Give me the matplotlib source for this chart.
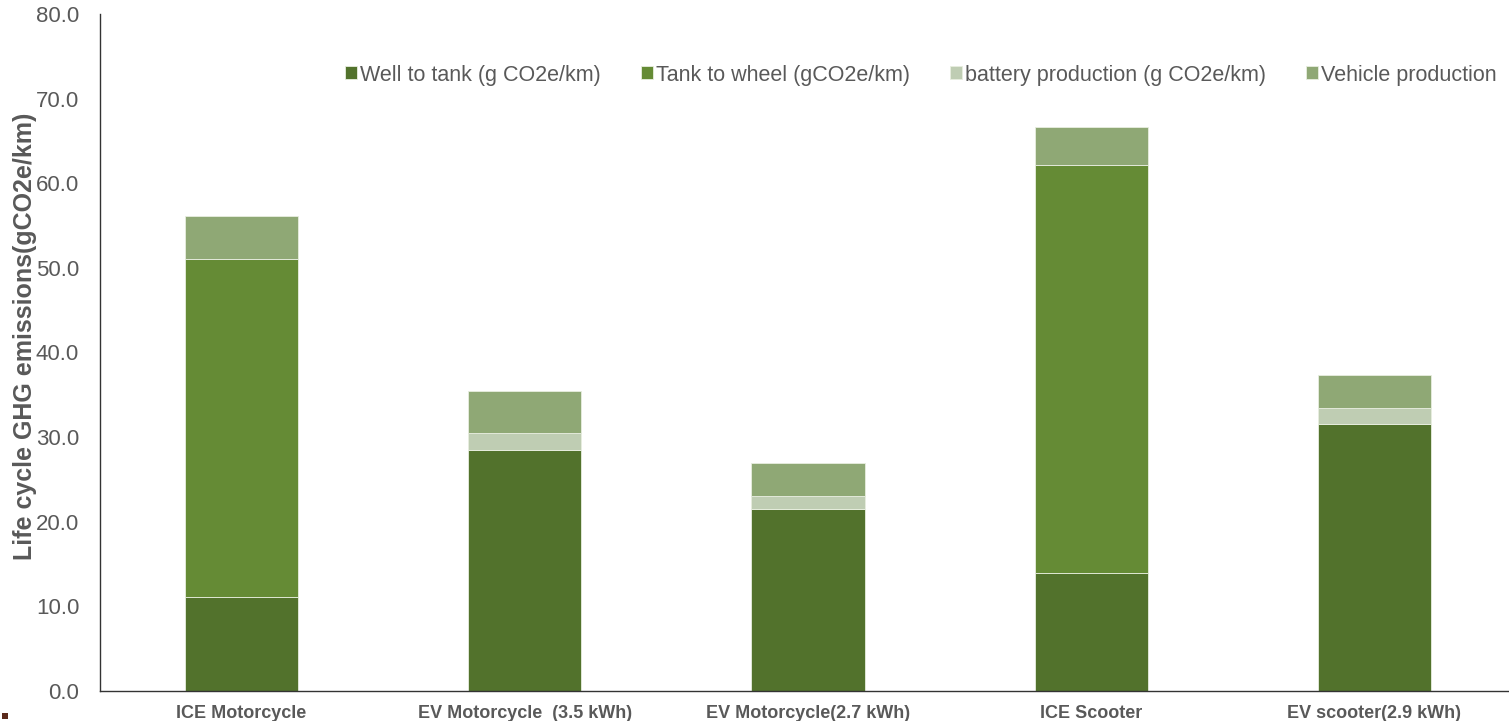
import matplotlib
matplotlib.use("Agg")
import matplotlib.pyplot as plt
from matplotlib.patches import Rectangle
import numpy as np

plt.rcParams['font.family'] = ['Liberation Sans', 'DejaVu Sans']

categories = ["ICE Motorcycle", "EV Motorcycle  (3.5 kWh)", "EV Motorcycle(2.7 kWh)",
              "ICE Scooter", "EV scooter(2.9 kWh)"]
series_names = ["Well to tank (g CO2e/km)", "Tank to wheel (gCO2e/km)",
                "battery production (g CO2e/km)", "Vehicle production"]
well_to_tank = [11.1, 28.5, 21.5, 14.0, 31.5]
tank_to_wheel = [40.0, 0.0, 0.0, 48.1, 0.0]
battery_production = [0.0, 2.0, 1.6, 0.0, 1.9]
vehicle_production = [5.0, 5.0, 3.8, 4.6, 4.0]
y_ticks = [0, 10, 20, 30, 40, 50, 60, 70, 80]

colors = ["#52722c", "#658b35", "#bfcdb3", "#8fa875"]
text_gray = "#595959"

W, H = 1509, 721
fig = plt.figure(figsize=(W / 100, H / 100), dpi=100)
left, right, bottom, top = 100 / W, 1516 / W, 1 - 691 / H, 1 - 14 / H
ax = fig.add_axes([left, bottom, right - left, top - bottom])

x = np.arange(len(categories))
base = np.zeros(len(categories))
handles = []
for name, vals, col in zip(series_names,
                           [well_to_tank, tank_to_wheel, battery_production, vehicle_production],
                           colors):
    vals = np.array(vals)
    b = ax.bar(x, vals, width=0.40, bottom=base, color=col, edgecolor="#e8eee0",
               linewidth=0.6, label=name, zorder=2)
    handles.append(b)
    base = base + vals

ax.set_xlim(-0.5, len(categories) - 0.5)
ax.set_ylim(0, 80)
ax.set_yticks(y_ticks)
ax.set_yticklabels([f"{v:.1f}" for v in y_ticks], fontsize=16, color=text_gray)
ax.set_xticks(x)
ax.set_xticklabels(categories, fontsize=13, fontweight="bold", color=text_gray)
ax.tick_params(axis="x", length=0, pad=10)
ax.tick_params(axis="y", length=0, pad=15)
for s in ["top", "right"]:
    ax.spines[s].set_visible(False)
for s in ["left", "bottom"]:
    ax.spines[s].set_color("#333333")
    ax.spines[s].set_linewidth(1.0)

fig.text(25 / W, 1 - 336 / H, "Life cycle GHG emissions(gCO2e/km)", rotation=90,
         ha="center", va="center", fontsize=18, fontweight="bold", color=text_gray)

leg = fig.legend(handles=handles, loc="center left", bbox_to_anchor=(345 / W, 1 - 75 / H),
                 ncol=4, frameon=False, fontsize=15.5, handlelength=0.55, handleheight=0.55,
                 handletextpad=0.15, columnspacing=1.86, borderpad=0, borderaxespad=0)
for t in leg.get_texts():
    t.set_color(text_gray)

# small marker at the lower-left corner
fig.patches.append(Rectangle((2 / W, 1 - 719 / H), 6 / W, 6 / H, transform=fig.transFigure,
                             facecolor="#5b2a1c", edgecolor="none"))

fig.savefig("out.png", dpi=100)
